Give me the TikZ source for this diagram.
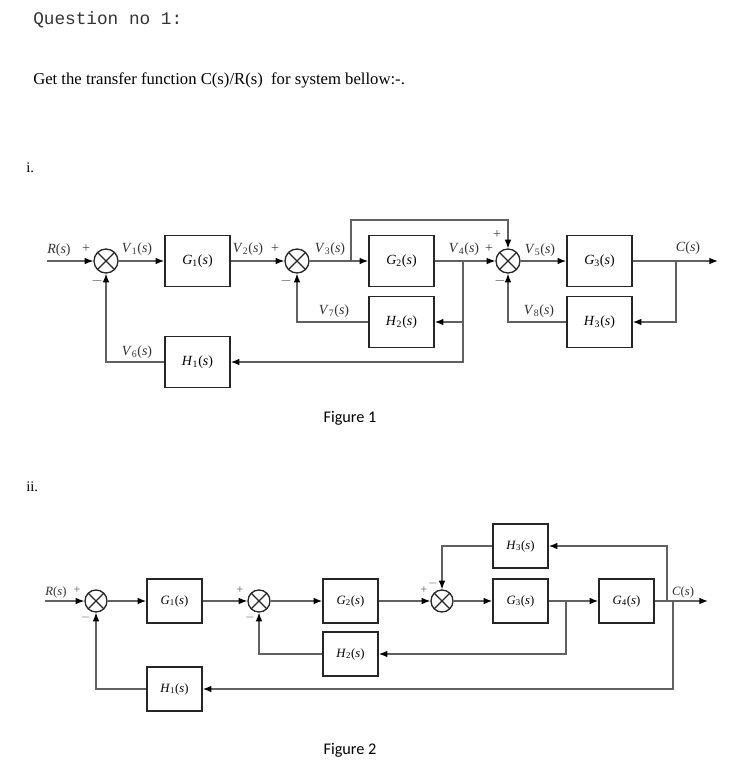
\documentclass[tikz,border=0pt]{standalone}
\usepackage{fontspec}
\setmainfont{Liberation Serif}
\setmonofont{Liberation Mono}
\newfontfamily\figfont{Carlito}
\usetikzlibrary{arrows.meta}
\newcommand\lbl[2]{\textit{#1}\textsubscript{#2}(\textit{s})}
\newcommand\lbs[1]{\textit{#1}(\textit{s})}
\tikzset{
  wire/.style={draw=black!62, line width=0.95pt},
  arr/.style={wire, -{Latex[length=6.5pt,width=5pt,black]}},
  blkA/.style={draw=black!85, line width=1.2pt, minimum width=48.75pt, minimum height=38pt, inner sep=0pt, font=\fontsize{10.5}{12}\selectfont},
  blkB/.style={draw=black!85, line width=1.2pt, minimum width=41.25pt, minimum height=33pt, inner sep=0pt, font=\fontsize{9.5}{11}\selectfont},
  sumA/.style={circle, draw=black!85, line width=1pt, minimum size=18pt, inner sep=0pt,
    path picture={\draw[black!85, line width=1pt] (path picture bounding box.south west) -- (path picture bounding box.north east) (path picture bounding box.north west) -- (path picture bounding box.south east);}},
  sumB/.style={sumA, minimum size=16.5pt},
  sigA/.style={inner sep=0pt, text=black!80, font=\fontsize{10.5}{12}\selectfont},
  sigB/.style={inner sep=0pt, text=black!80, font=\fontsize{9.5}{11}\selectfont},
  sgn/.style={inner sep=0pt, text=black!75, font=\fontsize{10.5}{12}\selectfont},
  sgnB/.style={inner sep=0pt, text=black!65, font=\fontsize{9}{10}\selectfont},
}
\begin{document}
\begin{tikzpicture}[x=0.75pt,y=-0.75pt]
\useasboundingbox (0,0) rectangle (747,783);
% header
\node[anchor=west, inner sep=0pt, font=\ttfamily\fontsize{13.3}{15}\selectfont, text=black!80] (q) at (33,20) {Question no 1:};
\node[anchor=west, inner sep=0pt, font=\fontsize{12.5}{14}\selectfont] (t) at (33,80) {Get the transfer function C(s)/R(s)\ \ for system bellow:-.};
\node[anchor=west, inner sep=0pt, font=\fontsize{11}{13}\selectfont] (l1) at (26,168) {i.};
\node[anchor=west, inner sep=0pt, font=\fontsize{11}{13}\selectfont] (l2) at (26,487) {ii.};

% ===== Figure 1 =====
\node[sumA] (sA1) at (106,261) {};
\node[sumA] (sA2) at (297,261) {};
\node[sumA] (sA3) at (508,261) {};
\node[blkA] (G1) at (197.5,261) {\lbl{G}{1}};
\node[blkA] (G2) at (401.5,261) {\lbl{G}{2}};
\node[blkA] (G3) at (599.5,261) {\lbl{G}{3}};
\node[blkA] (H1) at (197.5,362) {\lbl{H}{1}};
\node[blkA] (H2) at (401.5,322) {\lbl{H}{2}};
\node[blkA] (H3) at (599.5,322) {\lbl{H}{3}};
\coordinate (RinA) at (47,261);
\coordinate (CoutA) at (718,261);
\coordinate (bA) at (351,261);
\coordinate (tA) at (351,220);
\coordinate (bB) at (463,261);
\coordinate (bC) at (676,261);

\draw[arr] (RinA) -- (sA1.west);
\draw[arr] (sA1.east) -- (G1.west);
\draw[arr] (G1.east) -- (sA2.west);
\draw[arr] (sA2.east) -- (G2.west);
\draw[arr] (G2.east) -- (sA3.west);
\draw[arr] (sA3.east) -- (G3.west);
\draw[arr] (G3.east) -- (CoutA);
\draw[arr] (bA) -- (tA) -| (sA3.north);
\draw[arr] (bB) |- (H1.east);
\draw[arr] (bB |- H2.east) -- (H2.east);
\draw[arr] (bC) |- (H3.east);
\draw[arr] (H1.west) -| (sA1.south);
\draw[arr] (H2.west) -| (sA2.south);
\draw[arr] (H3.west) -| (sA3.south);

\node[sigA] (lR) at (59,250) {\lbs{R}};
\node[sgn] (p1) at (86,249) {+};
\node[sgn] (m1) at (97,281) {$-$};
\node[sigA] (lV1) at (137,249) {\lbl{V}{1}};
\node[sigA] (lV2) at (248,249) {\lbl{V}{2}};
\node[sgn] (p2) at (275,249) {+};
\node[sgn] (m2) at (286,281) {$-$};
\node[sigA] (lV3) at (330,249) {\lbl{V}{3}};
\node[sigA] (lV4) at (464,249) {\lbl{V}{4}};
\node[sgn] (p3) at (489,249) {+};
\node[sgn] (p4) at (497,235) {+};
\node[sgn] (m3) at (500,281) {$-$};
\node[sigA] (lV5) at (540,250) {\lbl{V}{5}};
\node[sigA] (lC) at (688,248) {\lbs{C}};
\node[sigA] (lV6) at (137,352) {\lbl{V}{6}};
\node[sigA] (lV7) at (334,311) {\lbl{V}{7}};
\node[sigA] (lV8) at (539,311) {\lbl{V}{8}};
\node[inner sep=0pt, font=\figfont\fontsize{12.2}{14}\selectfont] (f1) at (350,418) {Figure 1};

% ===== Figure 2 =====
\node[sumB] (sB1) at (96,601) {};
\node[sumB] (sB2) at (259,601) {};
\node[sumB] (sB3) at (442,601) {};
\node[blkB] (K1) at (174.5,601) {\lbl{G}{1}};
\node[blkB] (K2) at (350.5,601) {\lbl{G}{2}};
\node[blkB] (K3) at (520.5,601) {\lbl{G}{3}};
\node[blkB] (K4) at (626.5,601) {\lbl{G}{4}};
\node[blkB] (J1) at (174.5,689) {\lbl{H}{1}};
\node[blkB] (J2) at (350.5,654) {\lbl{H}{2}};
\node[blkB] (J3) at (520.5,546) {\lbl{H}{3}};
\coordinate (RinB) at (45,601);
\coordinate (CoutB) at (708,601);
\coordinate (c1) at (566,601);
\coordinate (c2) at (667,601);
\coordinate (c3) at (673,601);

\draw[arr] (RinB) -- (sB1.west);
\draw[arr] (sB1.east) -- (K1.west);
\draw[arr] (K1.east) -- (sB2.west);
\draw[arr] (sB2.east) -- (K2.west);
\draw[arr] (K2.east) -- (sB3.west);
\draw[arr] (sB3.east) -- (K3.west);
\draw[arr] (K3.east) -- (K4.west);
\draw[arr] (K4.east) -- (CoutB);
\draw[arr] (c1) |- (J2.east);
\draw[arr] (c2) |- (J3.east);
\draw[arr] (c3) |- (J1.east);
\draw[arr] (J3.west) -| (sB3.north);
\draw[arr] (J2.west) -| (sB2.south);
\draw[arr] (J1.west) -| (sB1.south);

\node[sigB] (kR) at (56,592) {\lbs{R}};
\node[sgnB] (q1) at (77,590) {+};
\node[sgnB] (n1) at (86,617) {$-$};
\node[sgnB] (q2) at (240,590) {+};
\node[sgnB] (n2) at (250,617) {$-$};
\node[sgnB] (q3) at (424,590) {+};
\node[sgnB] (n3) at (433,583) {$-$};
\node[sigB] (kC) at (683,592) {\lbs{C}};
\node[inner sep=0pt, font=\figfont\fontsize{12.2}{14}\selectfont] (f2) at (350,750) {Figure 2};
\end{tikzpicture}
\end{document}
